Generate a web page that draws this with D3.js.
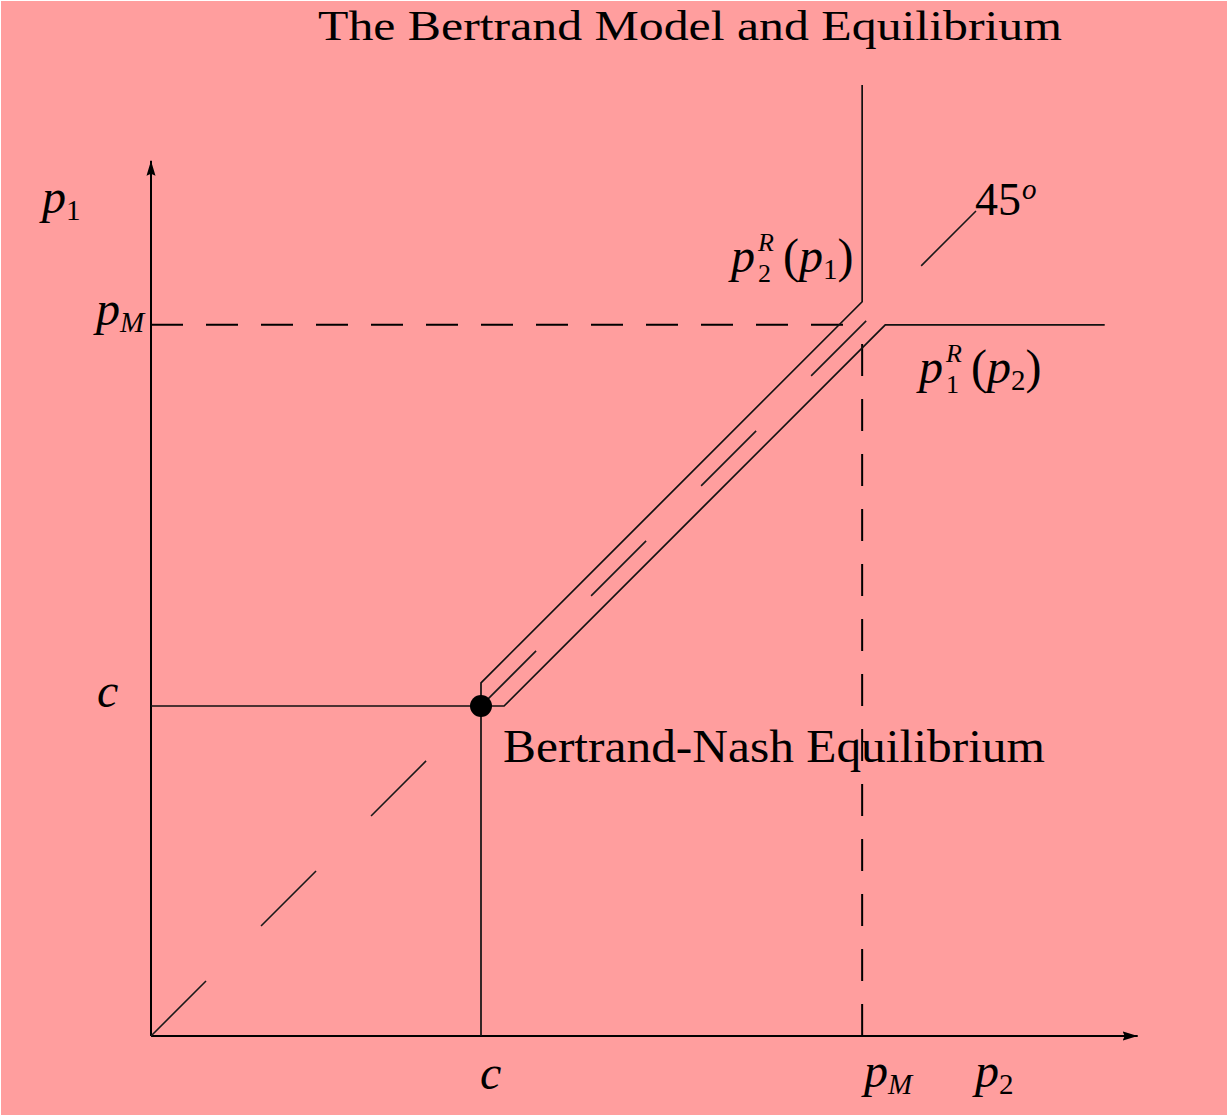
<!DOCTYPE html>
<html>
<head>
<meta charset="utf-8">
<script src="https://cdn.jsdelivr.net/npm/d3@7"></script>
<style>
  html, body { margin: 0; padding: 0; background: #ffffff; }
  svg { display: block; }
  text { font-family: "Liberation Serif", "DejaVu Serif", serif; fill: #000; }
</style>
</head>
<body>
<svg id="chart" width="1229" height="1117"></svg>
<script>
// ---- Data (model values, in price units) ----
const c = 1.0;          // marginal cost
const pM = 2.155;       // monopoly price
const eps = 0.07;       // undercutting margin
const axisMaxX = 2.99;
const axisMaxY = 2.652;
// firm 2's best response, points as [p2, p1]
const p2Response = [[c, 0], [c, c + eps], [pM, pM + eps], [pM, 2.882]];
// firm 1's best response, points as [p2, p1]
const p1Response = [[0, c], [c + eps, c], [pM + eps, pM], [2.89, pM]];
// 45 degree line
const diag45 = [[0, 0], [2.5, 2.5]];
// guide lines at the monopoly price
const pMHorizontal = [[0, pM], [pM, pM]];
const pMVertical = [[pM, 0], [pM, pM]];
const equilibrium = [c, c];
const title = "The Bertrand Model and Equilibrium";
const eqLabel = "Bertrand-Nash Equilibrium";

// ---- Layout ----
const W = 1229, H = 1117;
const svg = d3.select("#chart");
const x = d3.scaleLinear().domain([0, 3]).range([151, 1141]);
const y = d3.scaleLinear().domain([0, 3]).range([1036, 46]);
const line = d3.line().x(d => x(d[0])).y(d => y(d[1]));

svg.append("rect").attr("x", 1).attr("y", 1).attr("width", W - 3).attr("height", H - 3)
  .attr("fill", "#FF9E9E");

const defs = svg.append("defs");
defs.append("marker").attr("id", "arrow")
  .attr("markerUnits", "userSpaceOnUse")
  .attr("viewBox", "0 -5 16 10").attr("refX", 15).attr("refY", 0)
  .attr("markerWidth", 16).attr("markerHeight", 10).attr("orient", "auto")
  .append("path").attr("d", "M0,-4.5L15,0L0,4.5L2,0Z").attr("fill", "#000");

// axes
svg.append("path").attr("d", line([[0, 0], [axisMaxX, 0]]))
  .attr("stroke", "#000").attr("stroke-width", 2).attr("fill", "none")
  .attr("marker-end", "url(#arrow)");
svg.append("path").attr("d", line([[0, 0], [0, axisMaxY]]))
  .attr("stroke", "#000").attr("stroke-width", 2).attr("fill", "none")
  .attr("marker-end", "url(#arrow)");

// dashed guides at pM
svg.append("path").attr("d", line(pMHorizontal))
  .attr("stroke", "#000").attr("stroke-width", 2).attr("fill", "none")
  .attr("stroke-dasharray", "32,23");
svg.append("path").attr("d", line(pMVertical))
  .attr("stroke", "#000").attr("stroke-width", 2).attr("fill", "none")
  .attr("stroke-dasharray", "32,23");

// 45 degree dashed line
svg.append("path").attr("d", line(diag45))
  .attr("stroke", "#1a1a1a").attr("stroke-width", 1.6).attr("fill", "none")
  .attr("stroke-dasharray", "77.8,77.8");

// best responses
svg.append("path").attr("d", line(p2Response))
  .attr("stroke", "#111").attr("stroke-width", 1.7).attr("fill", "none");
svg.append("path").attr("d", line(p1Response))
  .attr("stroke", "#111").attr("stroke-width", 1.7).attr("fill", "none");

// equilibrium dot
svg.append("circle").attr("cx", x(equilibrium[0])).attr("cy", y(equilibrium[1]))
  .attr("r", 11).attr("fill", "#000");

// ---- Text ----
const FS = 44, MS = 48, SS = 29;
function txt(px, py, s, opts = {}) {
  const t = svg.append("text").attr("x", px).attr("y", py)
    .attr("font-size", opts.size || FS).text(s);
  if (opts.italic) t.attr("font-style", "italic");
  if (opts.len) t.attr("textLength", opts.len).attr("lengthAdjust", "spacingAndGlyphs");
  return t;
}
// p with subscript
function pSub(px, py, sub, subItalic) {
  const t = svg.append("text").attr("x", px).attr("y", py).attr("font-size", MS);
  t.append("tspan").attr("font-style", "italic").text("p");
  t.append("tspan").attr("font-size", SS).attr("dy", 7)
    .attr("font-style", subItalic ? "italic" : "normal").text(sub);
  return t;
}

txt(318, 40, title, { len: 744, size: 42 });
txt(503, 762, eqLabel, { len: 542, size: 46 });

pSub(42, 213, "1");
pSub(96, 325, "M", true);
txt(97, 707, "c", { italic: true, size: MS });

txt(480, 1089, "c", { italic: true, size: MS });
pSub(864, 1087, "M", true);
pSub(975, 1087, "2");

// p_i^R(p_j)
function response(px, py, sub, argSub) {
  txt(px, py, "p", { italic: true, size: MS });
  txt(px + 27, py - 21, "R", { italic: true, size: 26 });
  txt(px + 27, py + 10, sub, { size: 26 });
  const t = svg.append("text").attr("x", px + 52).attr("y", py).attr("font-size", MS);
  t.append("tspan").text("(");
  t.append("tspan").attr("font-style", "italic").text("p");
  t.append("tspan").attr("font-size", SS).attr("dy", 7).text(argSub);
  t.append("tspan").attr("dy", -7).text(")");
}
response(731, 272, "2", "1");
response(919, 383, "1", "2");

// 45 degree label
txt(975, 215, "45", { size: 46 });
txt(1022, 199, "o", { italic: true, size: SS });
</script>
</body>
</html>
